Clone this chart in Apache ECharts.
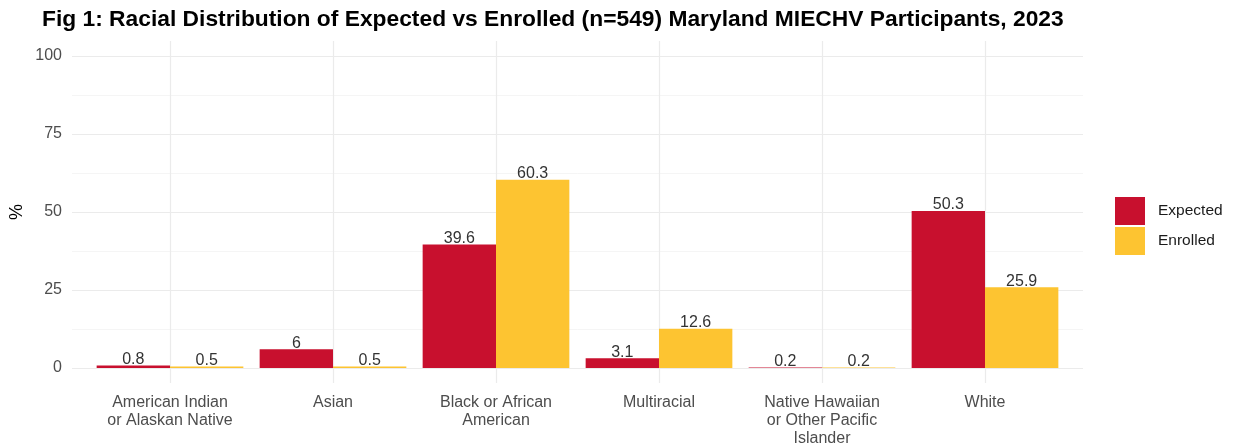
<!DOCTYPE html>
<html>
<head>
<meta charset="utf-8">
<script src="https://cdn.jsdelivr.net/npm/echarts@6/dist/echarts.min.js"></script>
<style>
  html, body { margin: 0; padding: 0; background: #ffffff; }
  #chart { width: 1239px; height: 445px; }
</style>
</head>
<body>
<div id="chart"></div>
<script>
// Race categories and the share (%) in each group
const categories = [
  'American Indian\nor Alaskan Native',
  'Asian',
  'Black or African\nAmerican',
  'Multiracial',
  'Native Hawaiian\nor Other Pacific\nIslander',
  'White'
];
const expected = [0.8, 6, 39.6, 3.1, 0.2, 50.3];
const enrolled = [0.5, 0.5, 60.3, 12.6, 0.2, 25.9];
const yTicks = [0, 25, 50, 75, 100];

const FONT = '"Liberation Sans", Arial, Helvetica, sans-serif';
const RED = '#C8102E';
const GOLD = '#FDC431';

const chart = echarts.init(document.getElementById('chart'), null, { renderer: 'canvas' });

const dataLabel = {
  show: true,
  position: 'top',
  distance: -2,
  fontFamily: FONT,
  fontSize: 16,
  color: '#333333',
  formatter: p => String(p.value)
};

chart.setOption({
  animation: false,
  backgroundColor: '#ffffff',
  title: {
    text: 'Fig 1: Racial Distribution of Expected vs Enrolled (n=549) Maryland MIECHV Participants, 2023',
    left: 37,
    top: 3,
    textStyle: { fontFamily: FONT, fontSize: 22.8, fontWeight: 'bold', color: '#000000' }
  },
  legend: {
    data: ['Expected', 'Enrolled'],
    orient: 'vertical',
    left: 1115,
    top: 197,
    padding: 0,
    icon: 'rect',
    itemWidth: 30,
    itemHeight: 28,
    itemGap: 2,
    textStyle: { fontFamily: FONT, fontSize: 15.5, color: '#1a1a1a', padding: [0, 0, 0, 8] }
  },
  grid: [
    // bars
    { left: 88.5, width: 978, top: 56, height: 312, outerBoundsMode: 'none' },
    // horizontal grid lines and y labels across the full panel
    { left: 72, width: 1011, top: 56, height: 312, outerBoundsMode: 'none' },
    // vertical grid lines at each category centre
    { left: 170, width: 815, top: 41, height: 342, outerBoundsMode: 'none' }
  ],
  xAxis: [
    {
      gridIndex: 0,
      type: 'category',
      data: categories,
      boundaryGap: true,
      axisLine: { show: false },
      axisTick: { show: false },
      splitLine: { show: false },
      axisLabel: {
        interval: 0,
        margin: 26,
        fontFamily: FONT,
        fontSize: 16,
        lineHeight: 18,
        color: '#4d4d4d'
      }
    },
    { gridIndex: 1, type: 'value', min: 0, max: 1, show: false },
    {
      gridIndex: 2,
      type: 'category',
      data: categories,
      boundaryGap: false,
      axisLine: { show: false },
      axisTick: { show: false },
      axisLabel: { show: false },
      splitLine: { show: true, lineStyle: { color: '#ebebeb', width: 1.2 } }
    }
  ],
  yAxis: [
    { gridIndex: 0, type: 'value', min: 0, max: 100, show: false },
    {
      gridIndex: 1,
      type: 'value',
      min: yTicks[0],
      max: yTicks[yTicks.length - 1],
      interval: 25,
      name: '%',
      nameLocation: 'middle',
      nameRotate: 90,
      nameGap: 46,
      nameMoveOverlap: false,
      nameTextStyle: { fontFamily: FONT, fontSize: 18, color: '#000000' },
      axisLine: { show: false },
      axisTick: { show: false },
      axisLabel: { margin: 10, fontFamily: FONT, fontSize: 16, color: '#4d4d4d' },
      splitLine: { show: true, lineStyle: { color: '#ebebeb', width: 1.2 } },
      minorTick: { show: false, splitNumber: 2 },
      minorSplitLine: { show: true, lineStyle: { color: '#f2f2f2', width: 0.8 } }
    },
    { gridIndex: 2, type: 'value', min: 0, max: 1, show: false }
  ],
  series: [
    {
      name: 'Expected',
      type: 'bar',
      xAxisIndex: 0,
      yAxisIndex: 0,
      data: expected,
      barWidth: '45%',
      barGap: '0%',
      itemStyle: { color: RED },
      label: dataLabel
    },
    {
      name: 'Enrolled',
      type: 'bar',
      xAxisIndex: 0,
      yAxisIndex: 0,
      data: enrolled,
      barWidth: '45%',
      barGap: '0%',
      itemStyle: { color: GOLD },
      label: dataLabel
    }
  ]
});
</script>
</body>
</html>
